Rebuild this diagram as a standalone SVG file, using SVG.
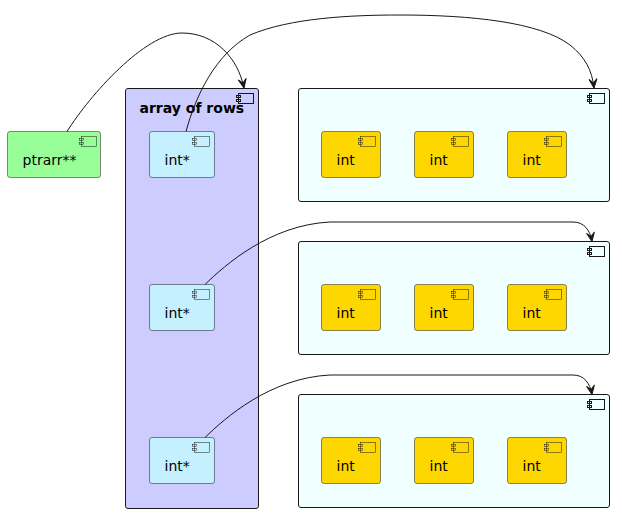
<svg xmlns="http://www.w3.org/2000/svg" width="622" height="521" viewBox="0 0 622 521">
<style>
  .t { font-family: "DejaVu Sans", "Liberation Sans", sans-serif; font-size: 14px; fill: #000000; }
  .tb { font-family: "DejaVu Sans", "Liberation Sans", sans-serif; font-size: 14px; font-weight: bold; fill: #000000; }
  .cont { fill: #F0FFFF; stroke: #181818; stroke-width: 1; }
  .arr { fill: #CCCCFF; stroke: #181818; stroke-width: 1; }
  .ptr { fill: #98FF98; stroke: #181818; stroke-width: 0.5; }
  .ip { fill: #C4F0FF; stroke: #181818; stroke-width: 0.5; }
  .iv { fill: #FFD700; stroke: #181818; stroke-width: 0.5; }
  .ic1 { fill: none; stroke: #181818; stroke-width: 1; }
  .ic { fill: none; stroke: #181818; stroke-width: 0.5; }
  .edge { fill: none; stroke: #181818; stroke-width: 1; marker-end: url(#ah); }
</style>
<defs>
  <marker id="ah" viewBox="-10 -5 11 10" markerWidth="11" markerHeight="10" refX="0" refY="0" orient="auto" markerUnits="userSpaceOnUse">
    <path d="M0,0 L-9,-4 L-5,0 L-9,4 Z" fill="#181818" stroke="#181818" stroke-width="1"/>
  </marker>
  <g id="icon1">
    <rect x="0" y="0" width="15" height="10" class="ic1"/>
    <rect x="-2" y="2" width="4" height="2" class="ic1"/>
    <rect x="-2" y="6" width="4" height="2" class="ic1"/>
  </g>
  <g id="icon">
    <rect x="0" y="0" width="15" height="10" class="ic"/>
    <rect x="-2" y="2" width="4" height="2" class="ic"/>
    <rect x="-2" y="6" width="4" height="2" class="ic"/>
  </g>
</defs>

<g id="array_of_rows">
  <rect x="125.5" y="88.5" width="133" height="420" rx="2.5" class="arr"/>
  <use href="#icon1" x="238.5" y="93.5"/>
  <text x="139.5" y="113" class="tb">array of rows</text>
</g>

<g id="row1">
  <rect x="298.5" y="88.5" width="311" height="113" rx="2.5" class="cont"/>
  <use href="#icon1" x="589.5" y="93.5"/>
</g>
<g id="row2">
  <rect x="298.5" y="241.5" width="311" height="113" rx="2.5" class="cont"/>
  <use href="#icon1" x="589.5" y="246.5"/>
</g>
<g id="row3">
  <rect x="298.5" y="394.5" width="311" height="113" rx="2.5" class="cont"/>
  <use href="#icon1" x="589.5" y="399.5"/>
</g>

<g id="ptrarr">
  <rect x="7.5" y="131.5" width="93" height="46" rx="2.5" class="ptr"/>
  <use href="#icon" x="81.5" y="136.5"/>
  <text x="22.5" y="164.5" class="t">ptrarr**</text>
</g>

<g id="p1">
  <rect x="149.5" y="131.5" width="65" height="46" rx="2.5" class="ip"/>
  <use href="#icon" x="194.5" y="136.5"/>
  <text x="164.5" y="164.5" class="t">int*</text>
</g>
<g id="p2">
  <rect x="149.5" y="284.5" width="65" height="46" rx="2.5" class="ip"/>
  <use href="#icon" x="194.5" y="289.5"/>
  <text x="164.5" y="317.5" class="t">int*</text>
</g>
<g id="p3">
  <rect x="149.5" y="437.5" width="65" height="46" rx="2.5" class="ip"/>
  <use href="#icon" x="194.5" y="442.5"/>
  <text x="164.5" y="470.5" class="t">int*</text>
</g>

<g id="r1c1"><rect x="321.5" y="131.5" width="59" height="46" rx="2.5" class="iv"/><use href="#icon" x="360.5" y="136.5"/><text x="336.5" y="164.5" class="t">int</text></g>
<g id="r1c2"><rect x="414.5" y="131.5" width="59" height="46" rx="2.5" class="iv"/><use href="#icon" x="453.5" y="136.5"/><text x="429.5" y="164.5" class="t">int</text></g>
<g id="r1c3"><rect x="507.5" y="131.5" width="59" height="46" rx="2.5" class="iv"/><use href="#icon" x="546.5" y="136.5"/><text x="522.5" y="164.5" class="t">int</text></g>

<g id="r2c1"><rect x="321.5" y="284.5" width="59" height="46" rx="2.5" class="iv"/><use href="#icon" x="360.5" y="289.5"/><text x="336.5" y="317.5" class="t">int</text></g>
<g id="r2c2"><rect x="414.5" y="284.5" width="59" height="46" rx="2.5" class="iv"/><use href="#icon" x="453.5" y="289.5"/><text x="429.5" y="317.5" class="t">int</text></g>
<g id="r2c3"><rect x="507.5" y="284.5" width="59" height="46" rx="2.5" class="iv"/><use href="#icon" x="546.5" y="289.5"/><text x="522.5" y="317.5" class="t">int</text></g>

<g id="r3c1"><rect x="321.5" y="437.5" width="59" height="46" rx="2.5" class="iv"/><use href="#icon" x="360.5" y="442.5"/><text x="336.5" y="470.5" class="t">int</text></g>
<g id="r3c2"><rect x="414.5" y="437.5" width="59" height="46" rx="2.5" class="iv"/><use href="#icon" x="453.5" y="442.5"/><text x="429.5" y="470.5" class="t">int</text></g>
<g id="r3c3"><rect x="507.5" y="437.5" width="59" height="46" rx="2.5" class="iv"/><use href="#icon" x="546.5" y="442.5"/><text x="522.5" y="470.5" class="t">int</text></g>

<g id="connectors">
  <path class="edge" d="M67,131.5 C90,95 145,33 182,33 C215,33 238,58 244,88"/>
  <path class="edge" d="M186,131.5 C196,95 215,55 250,35 C290,18 350,15 400,15 C470,15 540,22 570,45 C585,57 592,70 594,88"/>
  <path class="edge" d="M205,284.5 C225,265 270,225 330,222 L573,222 C584,222 590,230 592,241.5"/>
  <path class="edge" d="M205,437.5 C225,418 270,378 330,375 L573,375 C584,375 590,383 592,394.5"/>
</g>
</svg>
